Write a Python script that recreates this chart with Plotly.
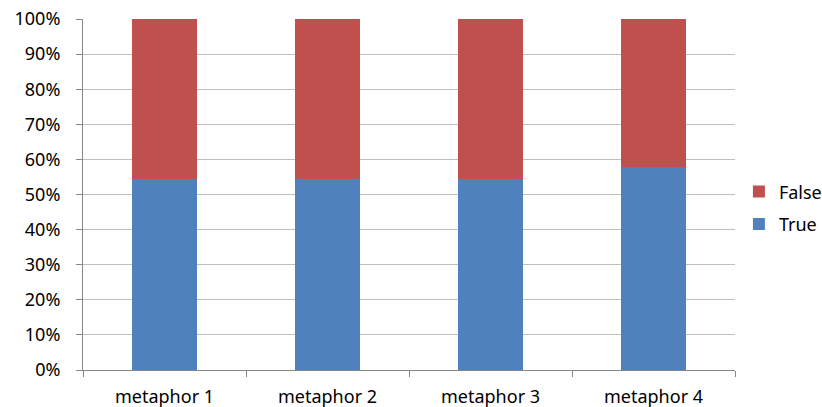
import plotly.graph_objects as go

categories = ["metaphor 1", "metaphor 2", "metaphor 3", "metaphor 4"]
true_pct = [54.4, 54.4, 54.4, 57.7]
false_pct = [100 - v for v in true_pct]
y_ticks = [0, 10, 20, 30, 40, 50, 60, 70, 80, 90, 100]
y_tick_labels = [f"{v}%" for v in y_ticks]

fig = go.Figure()
fig.add_trace(go.Bar(x=categories, y=true_pct, name="True", marker_color="#4F81BD",
                     marker_line_width=0, legendgroup="t", legendrank=2))
fig.add_trace(go.Bar(x=categories, y=false_pct, name="False", marker_color="#C0504D",
                     marker_line_width=0, legendgroup="f", legendrank=1))

font = dict(family="Noto Sans", size=18, color="#000000")
fig.update_layout(
    barmode="stack",
    bargap=0.607,
    width=822, height=407,
    margin=dict(l=83, r=87, t=19, b=37, autoexpand=False),
    paper_bgcolor="white", plot_bgcolor="white",
    font=font,
    legend=dict(traceorder="grouped", x=1.006, y=0.462, yanchor="middle", xanchor="left",
                tracegroupgap=6, font=dict(family="Noto Sans", size=18), itemwidth=30),
    xaxis=dict(showline=True, linecolor="#868686", linewidth=1, ticks="outside",
               tickson="boundaries", ticklen=6, tickcolor="#868686", showgrid=False,
               tickfont=font, automargin=False, ticklabelstandoff=10),
    yaxis=dict(range=[0, 100], tickvals=y_ticks, ticktext=y_tick_labels,
               showline=True, linecolor="#868686", linewidth=1, ticks="outside",
               ticklen=6, tickcolor="#868686", showgrid=True, gridcolor="#BFBFBF",
               gridwidth=1, zeroline=False, tickfont=font, automargin=False, ticklabelstandoff=12),
)
fig.write_html("out.html", config={"displayModeBar": False},
               post_script="document.body.style.margin='0';document.body.style.padding='0';")
